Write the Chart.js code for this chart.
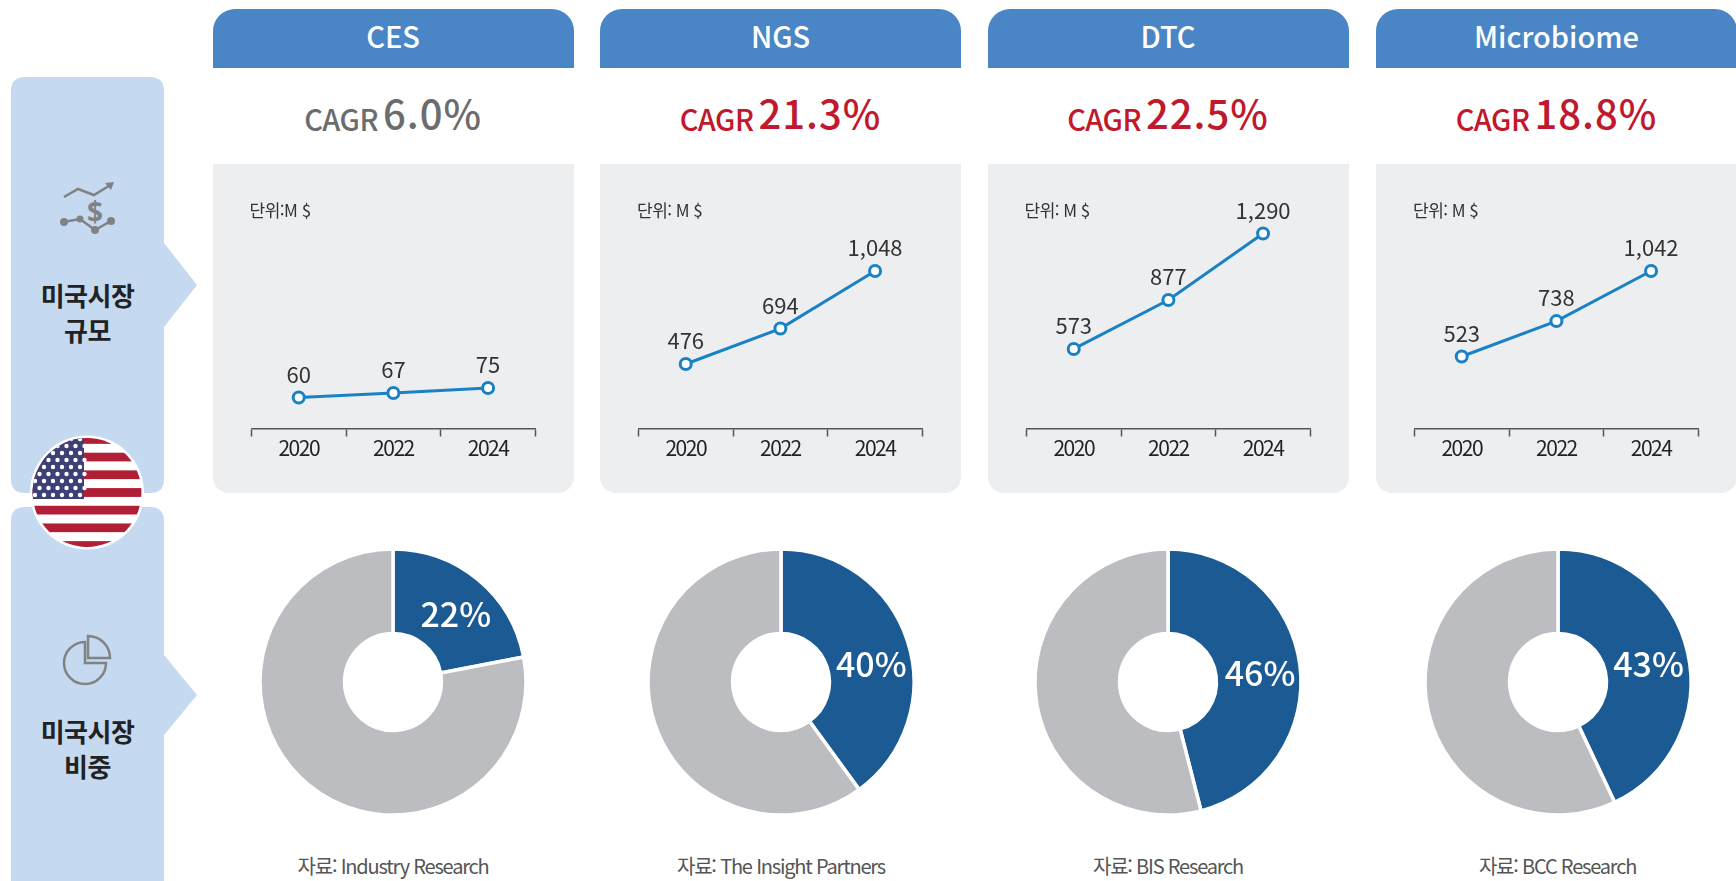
<!DOCTYPE html>
<html lang="ko">
<head>
<meta charset="utf-8">
<title>미국시장 규모 및 비중</title>
<script src="https://cdn.jsdelivr.net/npm/chart.js@4"></script>
<style>
  html, body { margin: 0; padding: 0; background: #fff; }
  body { position: relative; width: 1736px; height: 881px; overflow: hidden; font-family: "Noto Sans CJK KR", "Noto Sans", sans-serif; filter: blur(0.5px); }
  .abs { position: absolute; }
  .head { top: 9px; height: 59px; background: #4a86c5; border-radius: 22px 22px 0 0; color: #fff; font-size: 29px; font-weight: 500; line-height: 52px; text-align: center; }
  .cagr { top: 82px; height: 64px; line-height: 64px; text-align: center; font-weight: 500; white-space: nowrap; }
  .cagr .small { font-size: 29px; letter-spacing: -0.5px; margin-right: 5px; }
  .cagr .big { font-size: 40px; font-weight: 500; letter-spacing: 1px; position: relative; top: -2px; }
  .panel { top: 164px; height: 329px; background: #edeef0; border-radius: 0 0 16px 16px; }
  .unit { top: 200px; font-size: 17px; line-height: 20px; color: #333; letter-spacing: -0.5px; }
  .source { top: 852px; font-size: 20px; line-height: 28px; color: #555; letter-spacing: -1.2px; text-align: center; white-space: nowrap; }
  .side-label { left: 11px; width: 153px; text-align: center; font-size: 26px; font-weight: 700; line-height: 35px; color: #222; letter-spacing: -0.5px; }
  canvas { position: absolute; }
</style>
</head>
<body>
<svg class="abs" style="left:0;top:0" width="240" height="881" id="side">
  <path fill="#c5d9f0" d="M25 77 H150 Q164 77 164 91 V243 L197 285 L164 327 V479 Q164 493 150 493 H25 Q11 493 11 479 V91 Q11 77 25 77 Z"/>
  <path fill="#c5d9f0" d="M25 507 H150 Q164 507 164 521 V655 L197 695 L164 735 V881 H11 V521 Q11 507 25 507 Z"/>
  <!-- dollar icon -->
  <g fill="none" stroke="#808284" stroke-width="2.5">
    <polyline points="64,197 78,189 94,195 112,184"/>
    <polyline points="63,222 80,219 95,230 111,221"/>
  </g>
  <polygon points="105,183 114,182 111,190" fill="#808284"/>
  <g fill="#808284">
    <circle cx="64" cy="222" r="4"/><circle cx="80" cy="219" r="3.5"/>
    <circle cx="95" cy="230" r="4"/><circle cx="111" cy="221" r="4"/>
  </g>
  <text x="95" y="222" text-anchor="middle" font-size="28" font-weight="700" fill="#808284" font-family="Noto Sans">$</text>
  <!-- pie icon -->
  <g fill="none" stroke="#808284" stroke-width="2.5">
    <path d="M88 636 A 22 22 0 0 1 110 658 L 88 658 Z"/>
    <path d="M85 642 A 21 21 0 1 0 106 663 L 85 663 Z"/>
  </g>
  <!-- flag -->
  <defs><clipPath id="flagClip"><circle cx="87" cy="492.5" r="54.5"/></clipPath></defs>
  <circle cx="87" cy="492.5" r="57" fill="#fff"/>
  <g clip-path="url(#flagClip)" id="flag"></g>
</svg>
<div class="abs side-label" style="top:277px">미국시장<br>규모</div>
<div class="abs side-label" style="top:713px">미국시장<br>비중</div>

<script>
// chart data
var categories = ['CES', 'NGS', 'DTC', 'Microbiome'];
var years = ['2020', '2022', '2024'];
var cesValues = [60, 67, 75];
var ngsValues = [476, 694, 1048];
var dtcValues = [573, 877, 1290];
var microValues = [523, 738, 1042];
var cagrValues = ['6.0%', '21.3%', '22.5%', '18.8%'];
var usShares = [22, 40, 46, 43];
var unitLabels = ['단위:M $', '단위: M $', '단위: M $', '단위: M $'];
var sourceLabels = ['자료: Industry Research', '자료: The Insight Partners', '자료: BIS Research', '자료: BCC Research'];

// value axis range of each small chart (the axes are hidden)
var axisMins = [11, 79, 79, 86];
var axisMaxes = [372, 1485, 1498, 1473];

var allValues = [cesValues, ngsValues, dtcValues, microValues];

// column layout
var panelLefts = [212.6, 600, 987.5, 1376];
var panelWidth = 361;
var donutCenters = [393, 781, 1168, 1557.5];
var donutCenterY = 682;
var labelShiftX = [5, 4, 2, 2];
var labelShiftY = [0, 8, 0, 0];

var FONT = '"Noto Sans CJK KR", "Noto Sans", sans-serif';

// flag
function drawFlag() {
    var flag = document.getElementById('flag');
    var ns = 'http://www.w3.org/2000/svg';
    var top = 435, stripe = 115 / 13;
    var i, j;
    for (i = 0; i < 13; i++) {
        var r = document.createElementNS(ns, 'rect');
        r.setAttribute('x', 30);
        r.setAttribute('y', top + i * stripe);
        r.setAttribute('width', 115);
        r.setAttribute('height', stripe + 0.2);
        r.setAttribute('fill', i % 2 === 0 ? '#b01f35' : '#fff');
        flag.appendChild(r);
    }
    var canton = document.createElementNS(ns, 'rect');
    canton.setAttribute('x', 30);
    canton.setAttribute('y', top);
    canton.setAttribute('width', 54);
    canton.setAttribute('height', 64);
    canton.setAttribute('fill', '#3f3f78');
    flag.appendChild(canton);
    for (i = 0; i < 9; i++) {
        for (j = 0; j < 6; j++) {
            var star = document.createElementNS(ns, 'circle');
            star.setAttribute('cx', 35 + j * 9 + (i % 2) * 4.5);
            star.setAttribute('cy', top + 4 + i * 7);
            star.setAttribute('r', 2.2);
            star.setAttribute('fill', '#fff');
            flag.appendChild(star);
        }
    }
}

function addDiv(className, left, width, html) {
    var div = document.createElement('div');
    div.className = 'abs ' + className;
    div.style.left = left + 'px';
    if (width) div.style.width = width + 'px';
    div.innerHTML = html;
    document.body.appendChild(div);
    return div;
}

function addCanvas(left, top, width, height) {
    var canvas = document.createElement('canvas');
    canvas.width = width;
    canvas.height = height;
    canvas.style.left = left + 'px';
    canvas.style.top = top + 'px';
    canvas.style.width = width + 'px';
    canvas.style.height = height + 'px';
    document.body.appendChild(canvas);
    return canvas;
}

// value labels over the line points
var lineLabels = {
    id: 'lineLabels',
    beforeDraw: function (chart) {
        chart.ctx.letterSpacing = '-1.5px';
    },
    afterDatasetsDraw: function (chart) {
        var ctx = chart.ctx;
        var points = chart.getDatasetMeta(0).data;
        var values = chart.data.datasets[0].data;
        ctx.save();
        ctx.letterSpacing = '0px';
        ctx.font = '400 22px ' + FONT;
        ctx.fillStyle = '#333';
        ctx.textAlign = 'center';
        ctx.textBaseline = 'middle';
        points.forEach(function (pt, i) {
            ctx.fillText(values[i].toLocaleString('en-US'), pt.x, pt.y - 23);
        });
        ctx.restore();
    }
};

// percent label on the blue slice
var donutLabel = {
    id: 'donutLabel',
    afterDatasetsDraw: function (chart) {
        var ctx = chart.ctx;
        var i = chart.options.columnIndex;
        var arc = chart.getDatasetMeta(0).data[0];
        var center = arc.getCenterPoint();
        ctx.save();
        ctx.font = '500 34px ' + FONT;
        ctx.fillStyle = '#fff';
        ctx.textAlign = 'center';
        ctx.textBaseline = 'middle';
        ctx.fillText(chart.data.datasets[0].data[0] + '%', center.x + labelShiftX[i], center.y + 2 + labelShiftY[i]);
        ctx.restore();
    }
};

function drawLineChart(i) {
    var canvas = addCanvas(panelLefts[i], 164, panelWidth, 329);
    new Chart(canvas, {
        type: 'line',
        data: {
            labels: years,
            datasets: [{
                data: allValues[i],
                borderColor: '#1a82c4',
                borderWidth: 3,
                tension: 0,
                pointRadius: 5.5,
                pointBorderWidth: 3,
                pointBackgroundColor: '#fff',
                pointBorderColor: '#1a82c4'
            }]
        },
        options: {
            responsive: false,
            animation: false,
            events: [],
            layout: { padding: { left: 38.4, right: 38.6, top: 36, bottom: 0 } },
            plugins: { legend: { display: false }, tooltip: { enabled: false } },
            scales: {
                x: {
                    offset: true,
                    afterFit: function (scale) { scale.height = 64.5; },
                    border: { display: true, color: '#555', width: 1.5 },
                    grid: { offset: true, drawOnChartArea: false, drawTicks: true, tickLength: 8, tickColor: '#555', tickWidth: 1.5 },
                    ticks: { color: '#222', padding: -1, font: { family: FONT, size: 21, weight: '400' }, maxRotation: 0 }
                },
                y: { display: false, min: axisMins[i], max: axisMaxes[i] }
            }
        },
        plugins: [lineLabels]
    });
}

function drawDonut(i) {
    var canvas = addCanvas(donutCenters[i] - 150, donutCenterY - 150, 300, 300);
    new Chart(canvas, {
        type: 'doughnut',
        data: {
            labels: ['미국', '기타'],
            datasets: [{
                data: [usShares[i], 100 - usShares[i]],
                backgroundColor: ['#1c5a94', '#bcbdc0'],
                borderColor: '#fff',
                borderWidth: 3.5
            }]
        },
        options: {
            responsive: false,
            animation: false,
            events: [],
            columnIndex: i,
            radius: 133,
            cutout: 54,
            plugins: { legend: { display: false }, tooltip: { enabled: false } }
        },
        plugins: [donutLabel]
    });
}

drawFlag();

categories.forEach(function (name, i) {
    addDiv('head', panelLefts[i], panelWidth, name);
    var color = i === 0 ? '#6b6c6e' : '#c0182c';
    var cagr = addDiv('cagr', panelLefts[i], panelWidth,
        '<span class="small">CAGR</span><span class="big">' + cagrValues[i] + '</span>');
    cagr.style.color = color;
    addDiv('panel', panelLefts[i], panelWidth, '');
    drawLineChart(i);
    addDiv('unit', panelLefts[i] + 37, 0, unitLabels[i]).style.whiteSpace = 'nowrap';
    drawDonut(i);
    addDiv('source', donutCenters[i] - 150, 300, sourceLabels[i]);
});
</script>
</body>
</html>
